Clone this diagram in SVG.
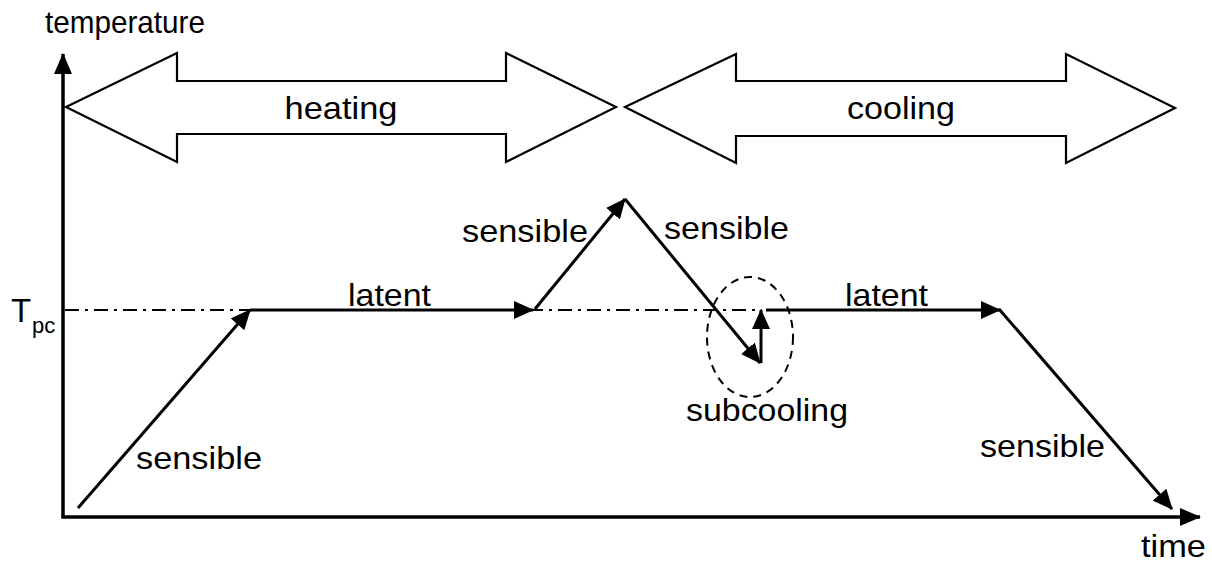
<svg xmlns="http://www.w3.org/2000/svg" width="1212" height="562" viewBox="0 0 1212 562">
<defs>
<style>
.t{font-family:"Liberation Sans",Arial,sans-serif;font-size:32px;fill:#000}
.ln{stroke:#000;stroke-width:3;fill:none}
.ax{stroke:#000;stroke-width:3.5;fill:none}
.band{fill:#fff;stroke:#000;stroke-width:2.2;stroke-linejoin:miter}
</style>
<marker id="ah" viewBox="0 0 20 18" refX="19" refY="9" markerWidth="20" markerHeight="18" markerUnits="userSpaceOnUse" orient="auto">
<path d="M0,0 L20,9 L0,18 z" fill="#000"/>
</marker>
<marker id="axh" viewBox="0 0 21 18" refX="20" refY="9" markerWidth="21" markerHeight="18" markerUnits="userSpaceOnUse" orient="auto">
<path d="M0,0 L21,9 L0,18 z" fill="#000"/>
</marker>
</defs>
<rect width="1212" height="562" fill="#fff"/>
<g id="axes">
<line class="ax" x1="63" y1="518" x2="63" y2="54" marker-end="url(#axh)"/>
<line class="ax" x1="61.5" y1="517" x2="1200" y2="517" marker-end="url(#axh)"/>
<text class="t" x="45" y="33" textLength="160" lengthAdjust="spacingAndGlyphs">temperature</text>
<text class="t" x="1141" y="557" textLength="65" lengthAdjust="spacingAndGlyphs">time</text>
</g>
<g id="tpc">
<line x1="65" y1="310" x2="762" y2="310" stroke="#000" stroke-width="2" stroke-dasharray="14 6 3 6"/>
<text class="t" x="11" y="322" style="font-size:33px">T</text>
<text class="t" x="32" y="333" style="font-size:22px">pc</text>
</g>
<g id="heating">
<polygon class="band" points="66,107 177,53 177,81 506,81 506,53 616,107 506,162 506,134 177,134 177,162"/>
<text class="t" x="341" y="119" text-anchor="middle" textLength="113" lengthAdjust="spacingAndGlyphs">heating</text>
</g>
<g id="cooling">
<polygon class="band" points="625,107 736,54 736,81 1066,81 1066,54 1175,108 1066,163 1066,136 736,136 736,163"/>
<text class="t" x="901" y="119" text-anchor="middle" textLength="108" lengthAdjust="spacingAndGlyphs">cooling</text>
</g>
<g id="subcooling">
<ellipse cx="750" cy="337" rx="43" ry="60" fill="none" stroke="#000" stroke-width="2" stroke-dasharray="8 6"/>
<text class="t" x="686" y="421" textLength="162" lengthAdjust="spacingAndGlyphs">subcooling</text>
</g>
<g id="labels">
<text class="t" x="136" y="469" textLength="126" lengthAdjust="spacingAndGlyphs">sensible</text>
<text class="t" x="348" y="306" textLength="83" lengthAdjust="spacingAndGlyphs">latent</text>
<text class="t" x="462" y="242" textLength="126" lengthAdjust="spacingAndGlyphs">sensible</text>
<text class="t" x="664" y="239" textLength="125" lengthAdjust="spacingAndGlyphs">sensible</text>
<text class="t" x="845" y="306" textLength="83" lengthAdjust="spacingAndGlyphs">latent</text>
<text class="t" x="980" y="457" textLength="125" lengthAdjust="spacingAndGlyphs">sensible</text>
</g>
<g id="connectors">
<line class="ln" x1="78" y1="508" x2="250" y2="310" marker-end="url(#ah)"/>
<line class="ln" x1="250" y1="310" x2="533" y2="310" marker-end="url(#ah)"/>
<line class="ln" x1="535" y1="309" x2="625" y2="199" marker-end="url(#ah)"/>
<line class="ln" x1="625" y1="199" x2="760" y2="363" marker-end="url(#ah)"/>
<line class="ln" x1="761" y1="363" x2="761" y2="310" marker-end="url(#ah)"/>
<line class="ln" x1="766" y1="310" x2="1000" y2="310" marker-end="url(#ah)"/>
<line class="ln" x1="999" y1="309" x2="1172" y2="509" marker-end="url(#ah)"/>
</g>
</svg>
